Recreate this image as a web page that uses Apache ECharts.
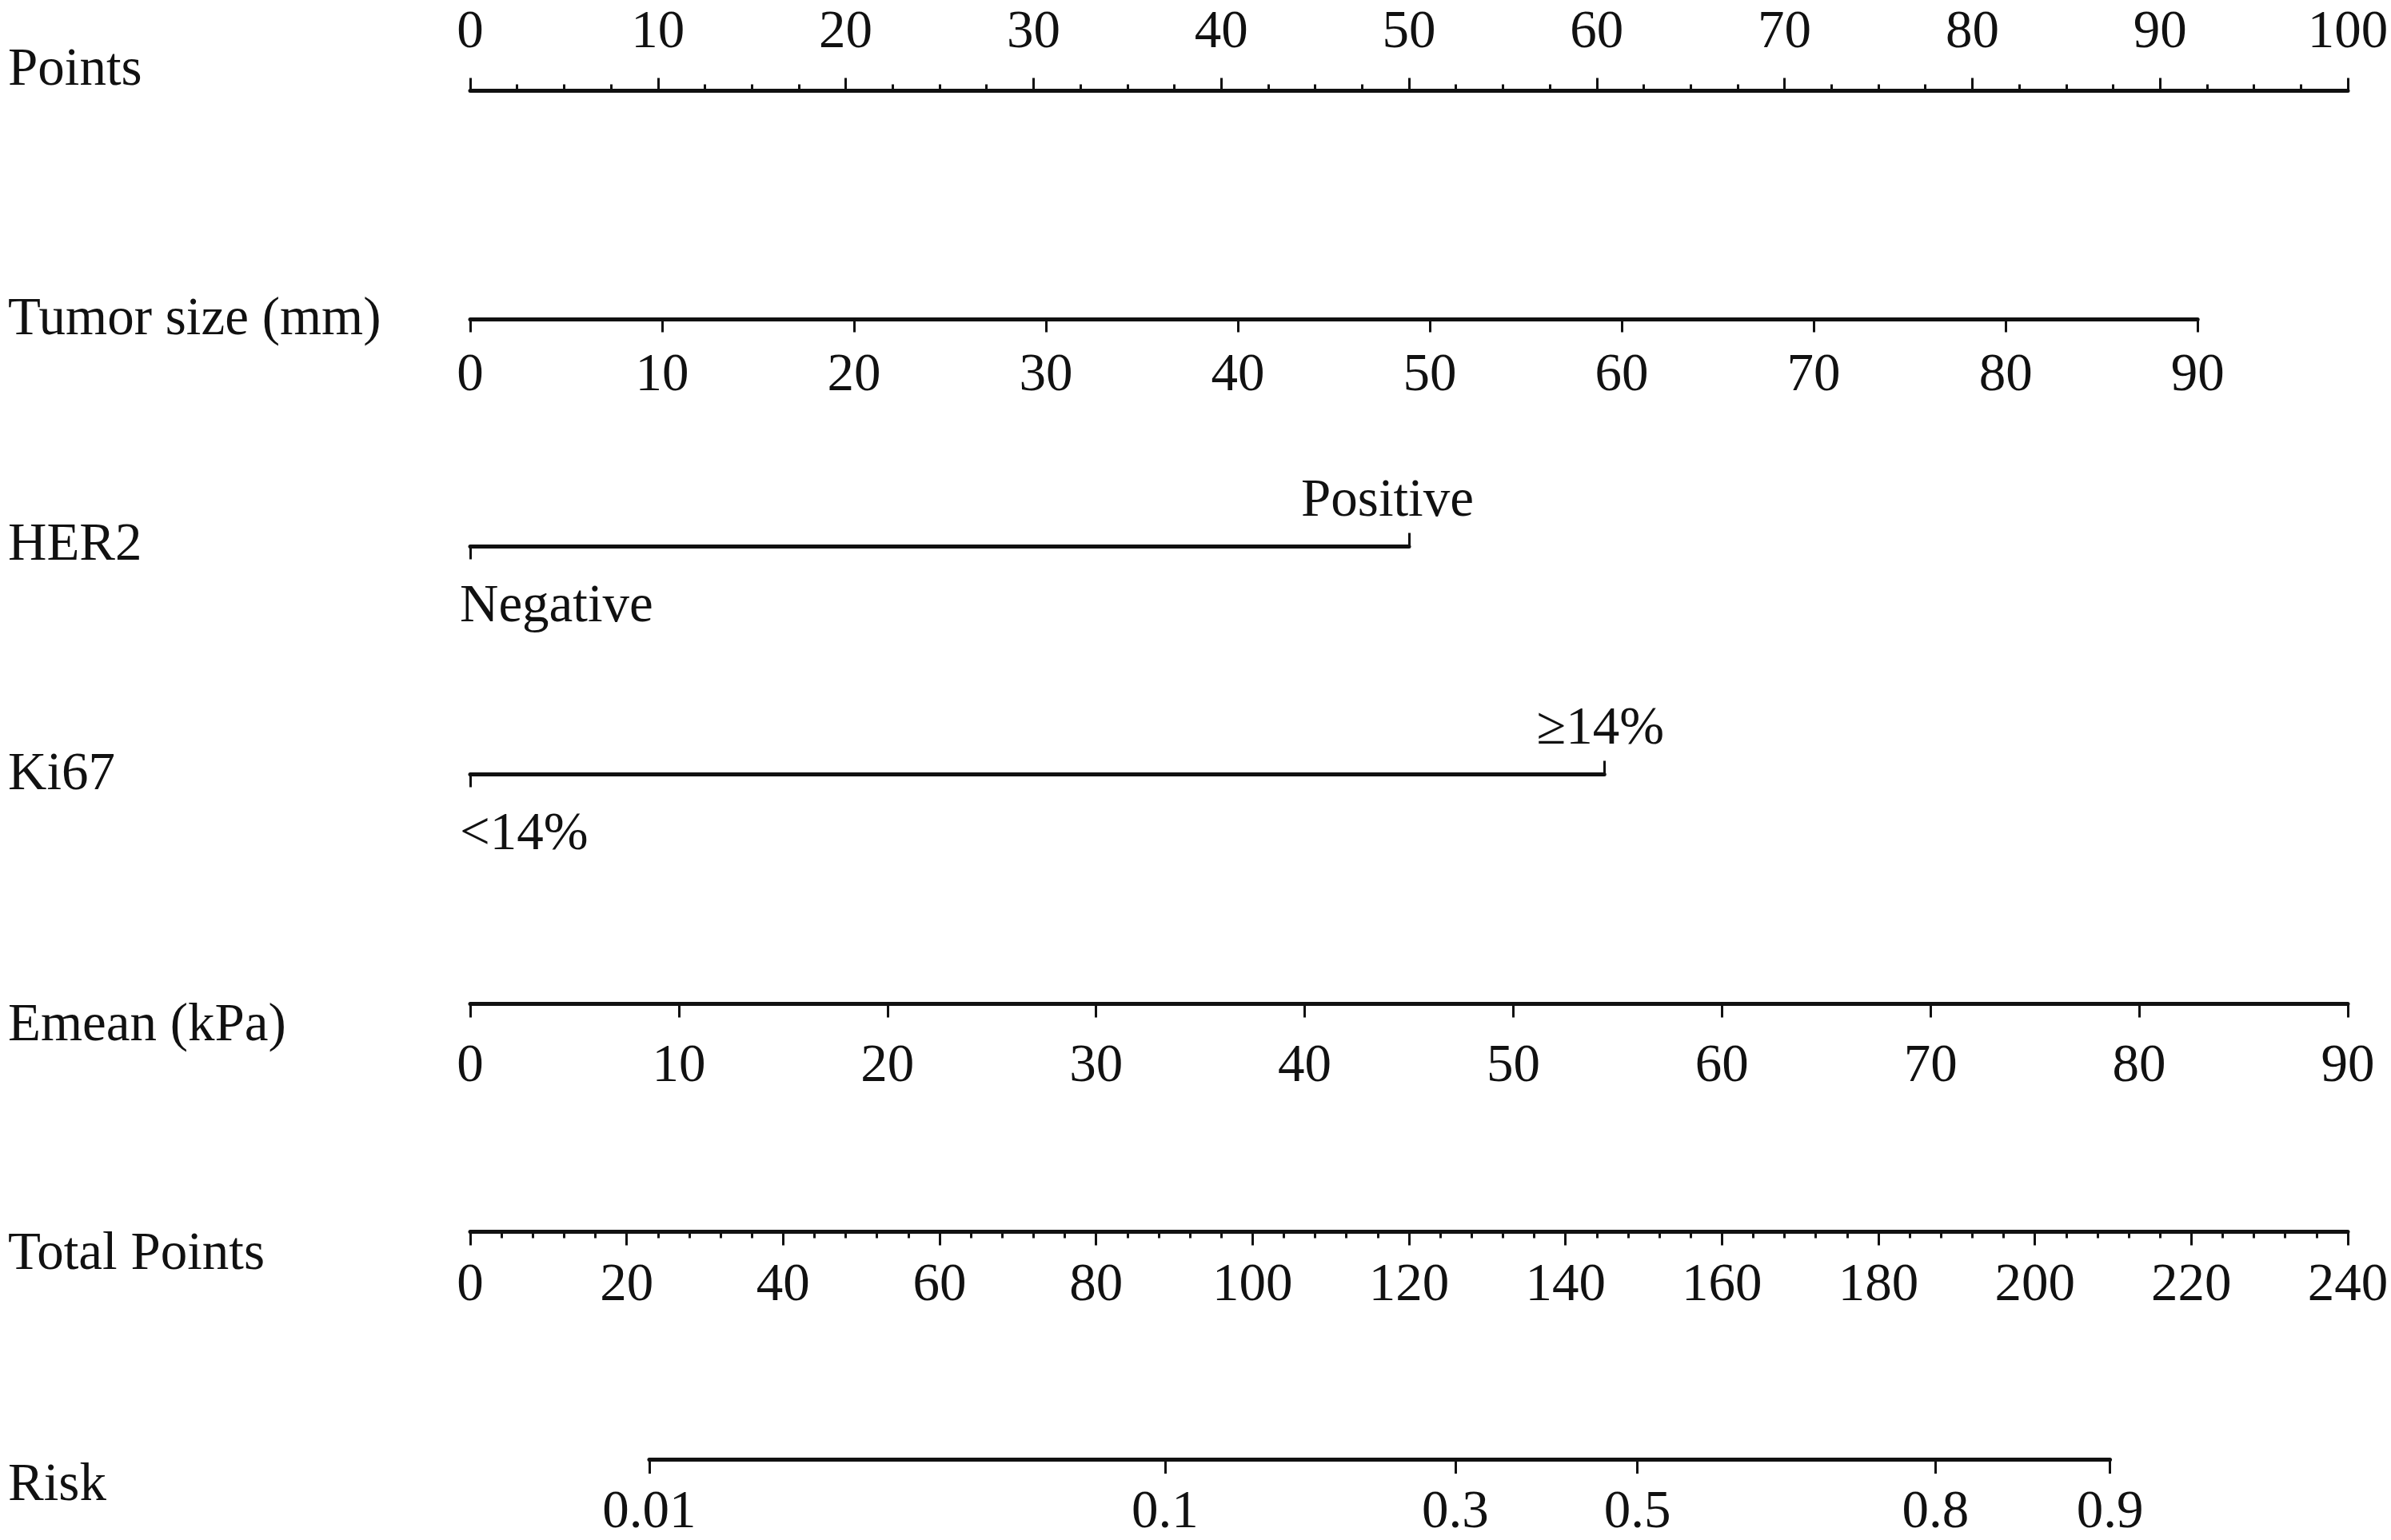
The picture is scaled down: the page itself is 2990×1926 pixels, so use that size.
<!DOCTYPE html>
<html>
<head>
<meta charset="utf-8">
<script src="https://cdn.jsdelivr.net/npm/echarts@6/dist/echarts.min.js"></script>
<style>
html, body { margin: 0; padding: 0; background: #fff; }
#main { width: 2990px; height: 1926px; }
</style>
</head>
<body>
<div id="main"></div>
<script>
// nomogram data
var rowLabels = ['Points', 'Tumor size (mm)', 'HER2', 'Ki67', 'Emean (kPa)', 'Total Points', 'Risk'];
var pointsRange = [0, 100];
var tumorSizeRange = [0, 90];
var tumorSizePointsAtMax = 92;
var her2Levels = ['Negative', 'Positive'];
var her2Points = [0, 50];
var ki67Levels = ['<14%', '\u226514%'];
var ki67Points = [0, 60.4];
var emeanRange = [0, 90];
var emeanPointsAtMax = 100;
var totalPointsRange = [0, 240];
var riskTicks = [0.01, 0.1, 0.3, 0.5, 0.8, 0.9];
var riskMidTotal = 149.2;   // total points where risk = 0.5
var riskSlope = 0.03638;    // logit units per total point

// layout
var plotLeft = 588, plotWidth = 2348;
var lineY = [113, 399, 683, 968, 1255, 1540, 1825];
var labelY = [88, 400, 682, 969, 1283, 1569, 1858];
var FONT = 'Liberation Serif';
var FS = 67;
var INK = '#111';

function riskToTotal(r) {
	return riskMidTotal + Math.log(r / (1 - r)) / riskSlope;
}

var lineStyle = {color: INK, width: 5};
var tickStyle = {color: INK, width: 3};
var labelStyle = {color: INK, fontFamily: FONT, fontSize: FS};

var grids = [], xAxes = [], yAxes = [];
function addGrid(left, width, y) {
	grids.push({left: left, width: width, top: y - 0.5, height: 1});
	yAxes.push({gridIndex: grids.length - 1, show: false, min: 0, max: 1});
	return grids.length - 1;
}
function valueAxis(g, pos, min, max, interval, tickLen, margin, minor) {
	var ax = {
		gridIndex: g, type: 'value', position: pos, min: min, max: max, interval: interval,
		axisLine: {show: true, lineStyle: lineStyle},
		axisTick: {show: true, length: tickLen, lineStyle: tickStyle},
		axisLabel: Object.assign({margin: margin, showMinLabel: true, showMaxLabel: true}, labelStyle),
		splitLine: {show: false}
	};
	if (minor) {
		ax.minorTick = {show: true, splitNumber: minor, length: 8, lineStyle: tickStyle};
	}
	return ax;
}

// Points
var g = addGrid(plotLeft, plotWidth, lineY[0]);
xAxes.push(valueAxis(g, 'top', pointsRange[0], pointsRange[1], 10, 16, 38, 4));

// Tumor size
g = addGrid(plotLeft, plotWidth * tumorSizePointsAtMax / 100, lineY[1]);
xAxes.push(valueAxis(g, 'bottom', tumorSizeRange[0], tumorSizeRange[1], 10, 16, 37));

// categorical rows: low level below the line, high level above
function catAxes(levels, pts, y, topShift) {
	var gi = addGrid(plotLeft, plotWidth * (pts[1] - pts[0]) / 100, y);
	xAxes.push({
		gridIndex: gi, type: 'category', data: levels, boundaryGap: false, position: 'bottom',
		axisLine: {show: true, lineStyle: lineStyle},
		axisTick: {show: true, length: 16, lineStyle: tickStyle, interval: function (i) { return i === 0; }},
		axisLabel: Object.assign({margin: 42, align: 'left', padding: [0, 0, 0, -13],
			interval: function (i) { return i === 0; }}, labelStyle)
	});
	xAxes.push({
		gridIndex: gi, type: 'category', data: levels, boundaryGap: false, position: 'top',
		axisLine: {show: false},
		axisTick: {show: true, length: 16, lineStyle: tickStyle, interval: function (i) { return i === levels.length - 1; }},
		axisLabel: Object.assign({margin: 22, padding: [0, topShift * 2, 0, 0],
			interval: function (i) { return i === levels.length - 1; }}, labelStyle)
	});
}
catAxes(her2Levels, her2Points, lineY[2], 27);
catAxes(ki67Levels, ki67Points, lineY[3], 5);

// Emean
g = addGrid(plotLeft, plotWidth * emeanPointsAtMax / 100, lineY[4]);
xAxes.push(valueAxis(g, 'bottom', emeanRange[0], emeanRange[1], 10, 17, 45));

// Total points
g = addGrid(plotLeft, plotWidth, lineY[5]);
xAxes.push(valueAxis(g, 'bottom', totalPointsRange[0], totalPointsRange[1], 20, 17, 34, 5));

// Risk (logit scale, placed on the total points scale)
var riskPos = riskTicks.map(riskToTotal);
var tpPx = plotWidth / (totalPointsRange[1] - totalPointsRange[0]);
var rMin = riskPos[0], rMax = riskPos[riskPos.length - 1];
g = addGrid(plotLeft + rMin * tpPx, (rMax - rMin) * tpPx, lineY[6]);
xAxes.push({
	gridIndex: g, type: 'value', position: 'bottom', min: rMin, max: rMax,
	axisLine: {show: true, lineStyle: lineStyle},
	axisTick: {show: true, length: 18, lineStyle: tickStyle, customValues: riskPos},
	axisLabel: Object.assign({
		margin: 34, customValues: riskPos,
		formatter: function (v) {
			var best = 0;
			for (var i = 1; i < riskPos.length; i++) {
				if (Math.abs(riskPos[i] - v) < Math.abs(riskPos[best] - v)) best = i;
			}
			return String(riskTicks[best]);
		}
	}, labelStyle),
	splitLine: {show: false}
});

var myChart = echarts.init(document.getElementById('main'));
var option = {
	backgroundColor: '#fff',
	animation: false,
	grid: grids,
	xAxis: xAxes,
	yAxis: yAxes,
	graphic: rowLabels.map(function (t, i) {
		return {
			type: 'text', x: 10, y: labelY[i],
			style: {text: t, fill: INK, fontFamily: FONT, fontSize: FS, align: 'left', verticalAlign: 'middle'}
		};
	}),
	series: []
};
myChart.setOption(option, true);
</script>
</body>
</html>
